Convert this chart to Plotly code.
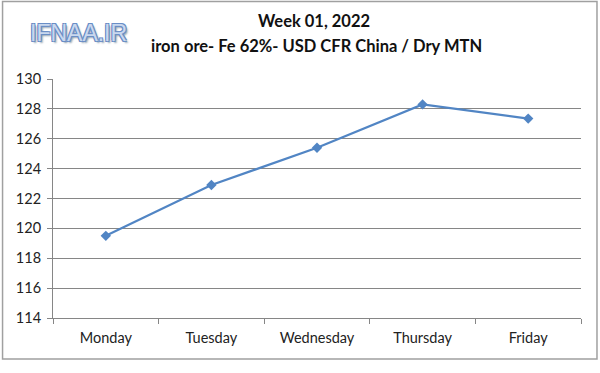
import plotly.graph_objects as go

days = ["Monday", "Tuesday", "Wednesday", "Thursday", "Friday"]
prices = [119.5, 122.9, 125.4, 128.3, 127.35]
y_ticks = [114, 116, 118, 120, 122, 124, 126, 128, 130]

W, H = 600, 373
L, R, T, B = 52.5, 19, 79, 55
pw, ph = W - L - R, H - T - B

def px_x(x):
    return (x - L) / pw

def px_y(y):
    return (H - B - y) / ph

fig = go.Figure()
fig.add_trace(go.Scatter(
    x=days, y=prices, mode="lines+markers",
    line=dict(color="#5185C4", width=2.2),
    marker=dict(symbol="diamond", size=8, color="#5185C4"),
    showlegend=False,
))

font_fam = "Lato, 'Open Sans', sans-serif"
outline = "#6A8EC6"
fig.update_layout(
    width=W, height=H,
    margin=dict(l=L, r=R, t=T, b=B, autoexpand=False),
    paper_bgcolor="white", plot_bgcolor="white",
    font=dict(family=font_fam, size=13, color="#222"),
    xaxis=dict(
        range=[-0.5, 4.5],
        showline=True, linecolor="#868686", linewidth=1,
        ticks="outside", ticklen=5, tickcolor="#868686",
        tickson="boundaries", showgrid=False, automargin=False,
        ticklabelstandoff=7,
        tickfont=dict(size=14.5, color="#222"),
    ),
    yaxis=dict(
        range=[114, 130], tickvals=y_ticks,
        showline=True, linecolor="#868686", linewidth=1,
        ticks="outside", ticklen=5, tickcolor="#868686",
        showgrid=True, gridcolor="#868686", gridwidth=1,
        zeroline=False, automargin=False,
        ticklabelstandoff=3,
        tickfont=dict(size=14.5, color="#222"),
    ),
    shapes=[dict(
        type="rect", xref="paper", yref="paper",
        x0=px_x(2), x1=px_x(597), y0=px_y(359), y1=px_y(1.5),
        line=dict(color="#A0A0A0", width=1.5), fillcolor="rgba(0,0,0,0)",
        layer="below",
    )],
    annotations=[
        dict(text="<b>Week 01, 2022</b>", xref="paper", yref="paper",
             x=px_x(314), y=px_y(21.5), showarrow=False,
             xanchor="center", yanchor="middle",
             font=dict(size=16.5, color="#111", family=font_fam)),
        dict(text="<b>iron ore- Fe 62%- USD CFR China / Dry MTN</b>", xref="paper", yref="paper",
             x=px_x(316), y=px_y(46), showarrow=False,
             xanchor="center", yanchor="middle",
             font=dict(size=16.5, color="#111", family=font_fam)),
        dict(text="IFNAA.IR", xref="paper", yref="paper",
             x=px_x(78), y=px_y(33), showarrow=False,
             xanchor="center", yanchor="middle",
             font=dict(size=23, color="#C9D8EE", family="'Liberation Sans', Arial, sans-serif",
                       shadow=f"-1px -1px 0 {outline}, 1px -1px 0 {outline}, -1px 1px 0 {outline}, 1px 1px 0 {outline}, 2px 2px 2px #8899aa")),
    ],
)

fig.write_html("out.html", config={"displayModeBar": False},
               post_script="document.body.style.margin='0';document.body.style.overflow='hidden';")
